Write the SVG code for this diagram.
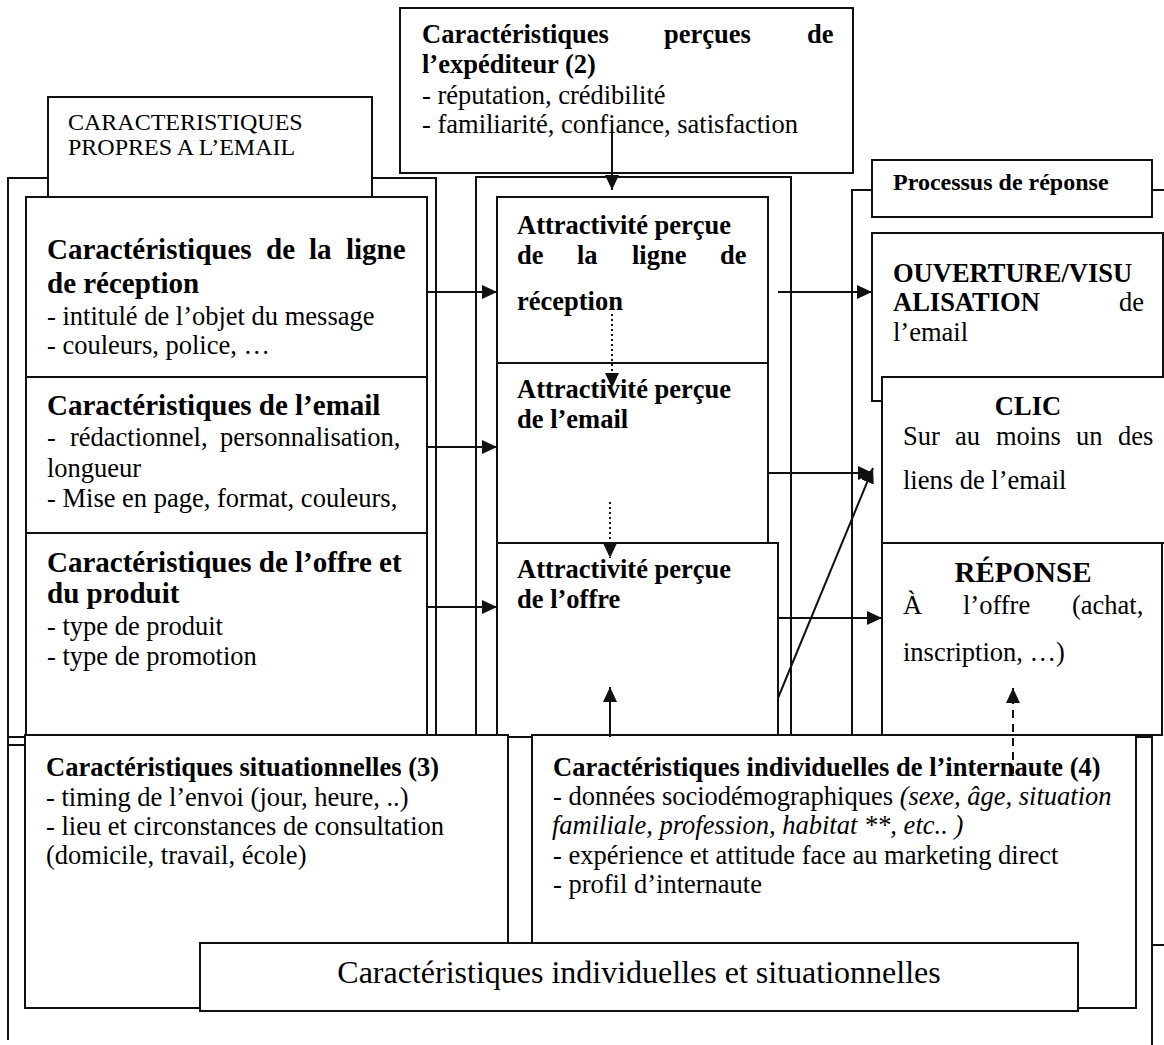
<svg xmlns="http://www.w3.org/2000/svg" width="1164" height="1045" viewBox="0 0 1164 1045">
<defs>
<style>
.bx{fill:#fff;stroke:#111;stroke-width:2}
.ln{fill:none;stroke:#111;stroke-width:2}
text{font-family:"Liberation Serif","Times New Roman",serif;fill:#000}
.t{font-size:26.5px}
.tb{font-size:26.5px;font-weight:bold}
.h{font-size:29px;font-weight:bold}
.i{font-style:italic}
.c{fill:none;stroke:#111;stroke-width:2}
.dot{stroke-dasharray:2 3}
.dash{stroke-dasharray:8 6}
</style>
<marker id="ah" viewBox="0 0 15 14" markerWidth="15" markerHeight="14" refX="15" refY="7" orient="auto" markerUnits="userSpaceOnUse"><path d="M0,0 L15,7 L0,14 z" fill="#111"/></marker>
</defs>
<rect width="1164" height="1045" fill="#fff"/>

<!-- background frames grouping the columns -->
<g id="frames">
<rect class="bx" x="8" y="178" width="428" height="567"/>
<rect class="bx" x="26" y="197" width="401" height="548"/>
<rect class="bx" x="476" y="177" width="315" height="568"/>
<path class="ln" d="M852,745 V190 H1170"/>
<path class="ln" d="M8,178 V1040 M8,737 H26"/>
<path class="ln" d="M1136,737 H1152 V1045 M1152,945 H1164"/>
</g>

<!-- left column: email characteristics -->
<g id="n-propres">
<rect class="bx" x="48" y="97" width="324" height="107"/>
<text x="68" y="130" style="font-size:24px">CARACTERISTIQUES</text>
<text x="68" y="155" style="font-size:24px">PROPRES A L’EMAIL</text>
</g>
<g id="n-ligne">
<rect class="bx" x="26" y="197" width="401" height="180"/>
<text class="h" y="259"><tspan x="47">Caractéristiques</tspan><tspan x="266">de</tspan><tspan x="309">la</tspan><tspan x="346">ligne</tspan></text>
<text class="h" x="47" y="293">de réception</text>
<text class="t" x="47" y="325">- intitulé de l’objet du message</text>
<text class="t" x="47" y="354">- couleurs, police, …</text>
</g>
<g id="n-email">
<rect class="bx" x="26" y="377" width="401" height="156"/>
<text class="h" x="47" y="415">Caractéristiques de l’email</text>
<text class="t" y="446"><tspan x="47">-</tspan><tspan x="70">rédactionnel,</tspan><tspan x="220">personnalisation,</tspan></text>
<text class="t" x="47" y="477">longueur</text>
<text class="t" x="47" y="507">- Mise en page, format, couleurs,</text>
</g>
<g id="n-offre">
<rect class="bx" x="26" y="533" width="401" height="212"/>
<text class="h" x="47" y="572">Caractéristiques de l’offre et</text>
<text class="h" x="47" y="603">du produit</text>
<text class="t" x="47" y="635">- type de produit</text>
<text class="t" x="47" y="665">- type de promotion</text>
</g>

<!-- middle column: perceived attractiveness -->
<g id="a-ligne">
<rect class="bx" x="497" y="197" width="271" height="166"/>
<text class="tb" x="517" y="234">Attractivité perçue</text>
<text class="tb" y="264"><tspan x="517">de</tspan><tspan x="577">la</tspan><tspan x="632">ligne</tspan><tspan x="720">de</tspan></text>
<text class="tb" x="517" y="310">réception</text>
</g>
<g id="a-email">
<rect class="bx" x="497" y="363" width="271" height="180"/>
<text class="tb" x="517" y="398">Attractivité perçue</text>
<text class="tb" x="517" y="428">de l’email</text>
</g>
<g id="a-offre">
<rect class="bx" x="497" y="543" width="281" height="202"/>
<text class="tb" x="517" y="578">Attractivité perçue</text>
<text class="tb" x="517" y="608">de l’offre</text>
</g>
<g id="expediteur">
<rect class="bx" x="400" y="8" width="453" height="165"/>
<text class="tb" y="43"><tspan x="422">Caractéristiques</tspan><tspan x="664">perçues</tspan><tspan x="807">de</tspan></text>
<text class="tb" x="422" y="73">l’expéditeur (2)</text>
<text class="t" x="422" y="104">- réputation, crédibilité</text>
<text class="t" x="422" y="133">- familiarité, confiance, satisfaction</text>
</g>

<!-- right column: response process -->
<g id="processus">
<rect class="bx" x="872" y="160" width="280" height="57"/>
<text x="893" y="190" style="font-size:24px;font-weight:bold">Processus de réponse</text>
</g>
<g id="ouverture">
<rect class="bx" x="872" y="233" width="291" height="168"/>
<text class="tb" x="893" y="282">OUVERTURE/VISU</text>
<text class="t" y="311"><tspan x="893" font-weight="bold">ALISATION</tspan><tspan x="1119">de</tspan></text>
<text class="t" x="893" y="341">l’email</text>
</g>
<g id="clic">
<rect class="bx" x="882" y="377" width="290" height="166"/>
<text class="tb" x="1028" y="415" text-anchor="middle">CLIC</text>
<text class="t" y="445"><tspan x="903">Sur</tspan><tspan x="955">au</tspan><tspan x="996">moins</tspan><tspan x="1076">un</tspan><tspan x="1118">des</tspan></text>
<text class="t" x="903" y="489">liens de l’email</text>
</g>
<g id="reponse">
<rect class="bx" x="882" y="543" width="280" height="192"/>
<text class="h" x="1023" y="582" text-anchor="middle">RÉPONSE</text>
<text class="t" y="614"><tspan x="903">À</tspan><tspan x="963">l’offre</tspan><tspan x="1072">(achat,</tspan></text>
<text class="t" x="903" y="661">inscription, …)</text>
</g>

<!-- bottom: individual and situational characteristics -->
<rect class="bx" x="508" y="737" width="40" height="260"/>
<g id="situationnelles">
<rect class="bx" x="25" y="735" width="483" height="273"/>
<text class="tb" x="46" y="776">Caractéristiques situationnelles (3)</text>
<text class="t" x="46" y="806">- timing de l’envoi (jour, heure, ..)</text>
<text class="t" x="46" y="835">- lieu et circonstances de consultation</text>
<text class="t" x="46" y="864">(domicile, travail, école)</text>
</g>
<g id="individuelles">
<rect class="bx" x="532" y="735" width="604" height="273"/>
<text class="tb" x="553" y="776">Caractéristiques individuelles de l’internaute (4)</text>
<text class="t" x="553" y="805">- données sociodémographiques <tspan class="i">(sexe, âge, situation</tspan></text>
<text class="t i" x="552" y="834">familiale, profession, habitat **, etc.. )</text>
<text class="t" x="553" y="864">- expérience et attitude face au marketing direct</text>
<text class="t" x="553" y="893">- profil d’internaute</text>
</g>
<g id="synthese">
<rect class="bx" x="200" y="943" width="878" height="68"/>
<text x="639" y="983" text-anchor="middle" style="font-size:32px">Caractéristiques individuelles et situationnelles</text>
</g>

<!-- connectors -->
<g id="connectors">
<path class="c" d="M612,124 V190" marker-end="url(#ah)"/>
<path class="c" d="M427,292 H497" marker-end="url(#ah)"/>
<path class="c" d="M427,447 H497" marker-end="url(#ah)"/>
<path class="c" d="M427,607 H497" marker-end="url(#ah)"/>
<path class="c" d="M778,292 H872" marker-end="url(#ah)"/>
<path class="c" d="M768,473 H873" marker-end="url(#ah)"/>
<path class="c" d="M778,698 L873,468" marker-end="url(#ah)"/>
<path class="c" d="M778,618 H882" marker-end="url(#ah)"/>
<path class="c dot" d="M612,314 V388" marker-end="url(#ah)"/>
<path class="c dot" d="M610,502 V558" marker-end="url(#ah)"/>
<path class="c" d="M610,737 V687" marker-end="url(#ah)"/>
<path class="c dash" d="M1013,774 V688" marker-end="url(#ah)"/>
</g>
</svg>
